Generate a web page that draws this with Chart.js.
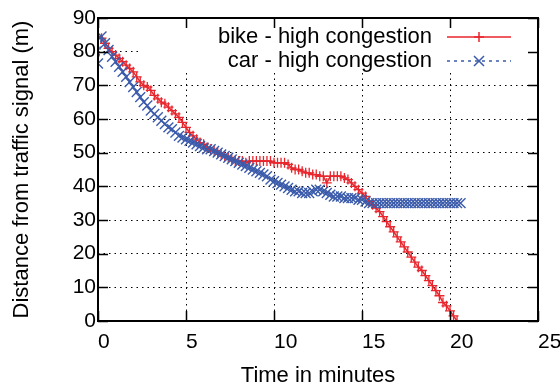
<!DOCTYPE html>
<html>
<head>
<meta charset="utf-8">
<title>Distance from traffic signal</title>
<script src="https://cdn.jsdelivr.net/npm/chart.js@4.4.0/dist/chart.umd.min.js"></script>
<style>
  html, body { margin: 0; padding: 0; background: #fff; }
  #wrap { width: 560px; height: 392px; }
</style>
</head>
<body>
<div id="wrap"><canvas id="chart" width="560" height="392"></canvas></div>
<script>
// sample times (minutes), one reading every 12 s
const minutes = [
  0, 0.2, 0.4, 0.6, 0.8, 1, 1.2, 1.4, 1.6, 1.8,
  2, 2.2, 2.4, 2.6, 2.8, 3, 3.2, 3.4, 3.6, 3.8,
  4, 4.2, 4.4, 4.6, 4.8, 5, 5.2, 5.4, 5.6, 5.8,
  6, 6.2, 6.4, 6.6, 6.8, 7, 7.2, 7.4, 7.6, 7.8,
  8, 8.2, 8.4, 8.6, 8.8, 9, 9.2, 9.4, 9.6, 9.8,
  10, 10.2, 10.4, 10.6, 10.8, 11, 11.2, 11.4, 11.6, 11.8,
  12, 12.2, 12.4, 12.6, 12.8, 13, 13.2, 13.4, 13.6, 13.8,
  14, 14.2, 14.4, 14.6, 14.8, 15, 15.2, 15.4, 15.6, 15.8,
  16, 16.2, 16.4, 16.6, 16.8, 17, 17.2, 17.4, 17.6, 17.8,
  18, 18.2, 18.4, 18.6, 18.8, 19, 19.2, 19.4, 19.6, 19.8,
  20, 20.2, 20.4, 20.6
];

// distance to the signal (m)
const bikeDistance = [
  84.5, 84.0, 82.5, 81.0, 80.0, 79.0, 78.0, 77.0, 76.0, 75.0,
  74.0, 72.5, 71.0, 70.0, 69.5, 68.5, 67.0, 66.0, 65.0, 64.5,
  63.5, 62.5, 61.5, 60.5, 59.0, 57.5, 56.0, 55.0, 54.0, 53.0,
  52.5, 51.5, 51.0, 50.5, 50.0, 49.5, 49.0, 48.5, 48.0, 47.5,
  47.5, 47.5, 47.0, 47.5, 47.5, 47.5, 47.5, 47.5, 47.5, 47.5,
  47.0, 47.0, 47.0, 47.0, 46.5, 45.5, 45.0, 45.0, 44.5, 44.0,
  44.0, 43.5, 43.5, 43.0, 43.0, 41.0, 43.0, 43.0, 43.0, 43.0,
  42.5, 42.0, 41.0, 40.0, 39.0, 38.0, 37.0, 35.5, 34.5, 33.5,
  32.5, 31.0, 29.5, 28.0, 26.5, 25.0, 23.5, 22.0, 20.5, 19.0,
  17.5, 16.0, 15.0, 13.5, 12.0, 10.5, 9.0, 7.5, 5.5, 4.5,
  3.0, 1.5, 0.0
];

const carDistance = [
  76.5, 84.5, 82.5, 80.5, 78.5, 77.0, 75.5, 74.0, 72.5, 71.0,
  69.5, 68.0, 66.5, 65.0, 64.0, 62.5, 61.5, 60.5, 59.5, 58.5,
  57.5, 57.0, 56.0, 55.0, 54.5, 54.0, 53.5, 53.0, 52.5, 52.0,
  51.5, 51.0, 51.0, 50.5, 50.0, 49.5, 49.0, 48.5, 48.0, 47.5,
  47.0, 46.5, 46.0, 45.5, 45.0, 44.5, 44.0, 43.5, 43.0, 42.0,
  41.5, 41.0, 40.5, 40.0, 39.5, 39.0, 38.5, 38.5, 38.0, 38.0,
  38.0, 38.5, 39.0, 39.0, 38.5, 38.0, 37.5, 37.0, 37.0, 37.0,
  36.5, 36.5, 36.5, 36.5, 36.0, 36.0, 35.5, 35.0, 35.0, 35.0,
  35.0, 35.0, 35.0, 35.0, 35.0, 35.0, 35.0, 35.0, 35.0, 35.0,
  35.0, 35.0, 35.0, 35.0, 35.0, 35.0, 35.0, 35.0, 35.0, 35.0,
  35.0, 35.0, 35.0, 35.0
];

const seriesNames = ['bike - high congestion', 'car - high congestion'];
const xTicks = [0, 5, 10, 15, 20, 25];
const yTicks = [0, 10, 20, 30, 40, 50, 60, 70, 80, 90];

const RED = '#e8262d';
const BLUE = '#3b5bab';
const FONT = '"Liberation Sans", Arial, Helvetica, sans-serif';

function toPoints(dist) {
  return dist.map((d, i) => ({ x: minutes[i], y: d }));
}

function plus(ctx, cx, cy, r) {
  ctx.beginPath();
  ctx.moveTo(cx - r, cy); ctx.lineTo(cx + r, cy);
  ctx.moveTo(cx, cy - r); ctx.lineTo(cx, cy + r);
  ctx.stroke();
}

function times(ctx, cx, cy, r) {
  ctx.beginPath();
  ctx.moveTo(cx - r, cy - r); ctx.lineTo(cx + r, cy + r);
  ctx.moveTo(cx - r, cy + r); ctx.lineTo(cx + r, cy - r);
  ctx.stroke();
}

// white key box in the top right, drawn over the grid
const keyBox = {
  id: 'keyBox',
  beforeDatasetsDraw(chart) {
    const { ctx, chartArea: a } = chart;
    ctx.save();
    ctx.fillStyle = '#fff';
    ctx.fillRect(a.left + 42, a.top + 8, a.right - a.left - 42, 45);
    ctx.restore();
  },
  afterDraw(chart) {
    const { ctx, chartArea: a, scales } = chart;
    ctx.save();

    // frame
    ctx.strokeStyle = '#000';
    ctx.lineWidth = 2;
    ctx.strokeRect(a.left, a.top, a.right - a.left, a.bottom - a.top);

    // inward tick marks on all four sides
    ctx.lineWidth = 1.5;
    ctx.beginPath();
    xTicks.forEach(v => {
      const px = Math.round(scales.x.getPixelForValue(v)) + 0.5;
      ctx.moveTo(px, a.bottom); ctx.lineTo(px, a.bottom - 10);
      ctx.moveTo(px, a.top); ctx.lineTo(px, a.top + 10);
    });
    yTicks.forEach(v => {
      const py = Math.round(scales.y.getPixelForValue(v)) + 0.5;
      ctx.moveTo(a.left, py); ctx.lineTo(a.left + 10, py);
      ctx.moveTo(a.right, py); ctx.lineTo(a.right - 10, py);
    });
    ctx.stroke();

    // key entries: text right-aligned, sample to the right
    const textRight = a.right - 106;
    const lineL = a.right - 91, lineR = a.right - 27;
    const mid = (lineL + lineR) / 2;
    const rows = [a.top + 19, a.top + 43];
    ctx.font = '22px ' + FONT;
    ctx.fillStyle = '#000';
    ctx.textAlign = 'right';
    ctx.textBaseline = 'middle';
    ctx.fillText(seriesNames[0], textRight, rows[0]);
    ctx.fillText(seriesNames[1], textRight, rows[1]);

    ctx.lineWidth = 1.5;
    ctx.strokeStyle = RED;
    ctx.beginPath();
    ctx.moveTo(lineL, rows[0]); ctx.lineTo(lineR, rows[0]);
    ctx.stroke();
    plus(ctx, mid, rows[0], 5);

    ctx.strokeStyle = BLUE;
    ctx.setLineDash([3, 4]);
    ctx.beginPath();
    ctx.moveTo(lineL, rows[1]); ctx.lineTo(lineR, rows[1]);
    ctx.stroke();
    ctx.setLineDash([]);
    times(ctx, mid, rows[1], 5);

    ctx.restore();
  }
};

new Chart(document.getElementById('chart'), {
  type: 'line',
  data: {
    datasets: [
      {
        label: seriesNames[0],
        data: toPoints(bikeDistance),
        borderColor: RED,
        borderWidth: 1.5,
        pointStyle: 'cross',
        pointRadius: 5,
        pointBorderWidth: 1.3,
        pointBorderColor: RED,
        pointBackgroundColor: RED,
        tension: 0,
        order: 2
      },
      {
        label: seriesNames[1],
        data: toPoints(carDistance),
        borderColor: BLUE,
        borderWidth: 1.5,
        borderDash: [3, 4],
        pointStyle: 'crossRot',
        pointRadius: 7,
        pointBorderWidth: 1.4,
        pointBorderColor: BLUE,
        pointBackgroundColor: BLUE,
        tension: 0,
        order: 1
      }
    ]
  },
  options: {
    responsive: false,
    animation: false,
    devicePixelRatio: 1,
    layout: { padding: { top: 18, right: 22, left: 0, bottom: 0 } },
    plugins: { legend: { display: false }, tooltip: { enabled: false } },
    scales: {
      x: {
        type: 'linear',
        min: 0,
        max: 25,
        afterBuildTicks: s => { s.ticks = xTicks.map(v => ({ value: v })); },
        afterFit: s => {
          s.height = 71;
          s.paddingLeft = 0;
          s.paddingRight = 0;
        },
        ticks: {
          color: '#000',
          font: { family: FONT, size: 21 },
          align: 'start',
          padding: 9,
          maxRotation: 0,
          autoSkip: false
        },
        grid: { color: '#000', lineWidth: 1, drawTicks: false },
        border: { display: false, dash: [1.5, 4] },
        title: {
          display: true,
          text: 'Time in minutes',
          color: '#000',
          font: { family: FONT, size: 22 },
          padding: { top: 0, bottom: 3 }
        }
      },
      y: {
        min: 0,
        max: 90,
        afterBuildTicks: s => { s.ticks = yTicks.map(v => ({ value: v })); },
        afterFit: s => {
          s.width = 98;
          s.paddingTop = 0;
          s.paddingBottom = 0;
        },
        ticks: {
          color: '#000',
          font: { family: FONT, size: 21 },
          padding: 2
        },
        grid: { color: '#000', lineWidth: 1, drawTicks: false },
        border: { display: false, dash: [1.5, 4] },
        title: {
          display: true,
          text: 'Distance from traffic signal (m)',
          color: '#000',
          font: { family: FONT, size: 22 },
          padding: { top: 9, bottom: 0 }
        }
      }
    }
  },
  plugins: [keyBox]
});
</script>
</body>
</html>
